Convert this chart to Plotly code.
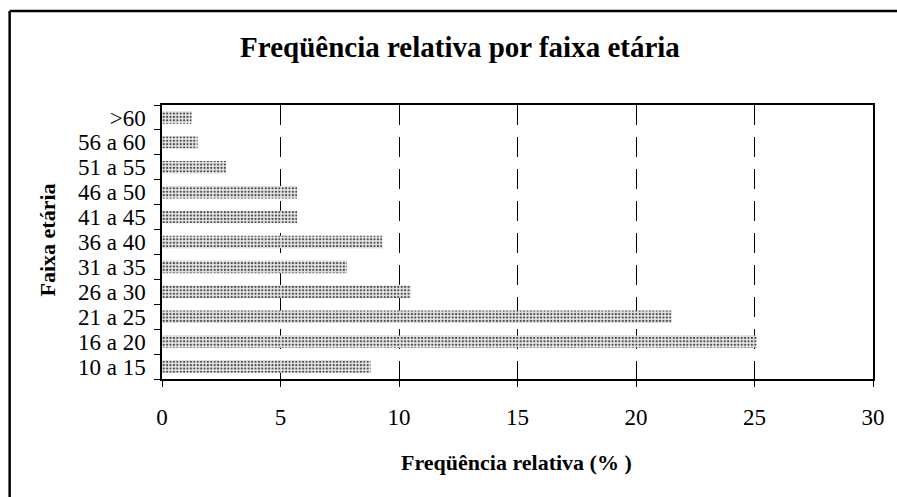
import plotly.graph_objects as go

categories = ["10 a 15", "16 a 20", "21 a 25", "26 a 30", "31 a 35", "36 a 40",
              "41 a 45", "46 a 50", "51 a 55", "56 a 60", ">60"]
values = [8.8, 25.1, 21.5, 10.5, 7.8, 9.3, 5.7, 5.7, 2.7, 1.5, 1.25]
x_ticks = [0, 5, 10, 15, 20, 25, 30]

title_text = "Freqüência relativa por faixa etária"
x_title = "Freqüência relativa (% )"
y_title = "Faixa etária"

FONT = "Liberation Serif, Times New Roman, serif"

fig = go.Figure()
fig.add_trace(go.Bar(
    y=categories, x=values, orientation="h", width=0.5,
    marker=dict(
        color="#e8e8e8",
        line=dict(width=0),
        pattern=dict(shape=".", size=3.4, solidity=0.35,
                     fgcolor="#4a4a4a", bgcolor="#e8e8e8", fillmode="replace"),
    ),
    hoverinfo="x+y",
))

W, H = 897, 497
L, R, T, B = 162, 21, 105, 118
pw, ph = W - L - R, H - T - B

fig.update_layout(
    width=W, height=H,
    margin=dict(l=L, r=R, t=T, b=B),
    paper_bgcolor="white", plot_bgcolor="white",
    showlegend=False,
    font=dict(family=FONT, color="black", size=23),
    title=dict(text="<b>" + title_text + "</b>", x=460 / W, xanchor="center",
               y=1 - 47 / H, yanchor="middle",
               font=dict(family=FONT, size=29, color="black")),
    bargap=0.5,
)

fig.update_xaxes(
    range=[0, 30], tickvals=x_ticks, ticktext=[str(v) for v in x_ticks],
    showgrid=True, gridcolor="black", gridwidth=1, griddash="20px,12px",
    showline=True, linecolor="black", linewidth=1.5, mirror=True,
    ticks="outside", ticklen=6, tickcolor="black", tickwidth=1,
    ticklabelstandoff=11,
    tickfont=dict(family=FONT, size=23, color="black"),
    zeroline=False, fixedrange=True,
)
fig.update_yaxes(
    type="category", categoryorder="array", categoryarray=categories,
    tickmode="array", tickvals=categories, ticktext=categories,
    showgrid=False, showline=True, linecolor="black", linewidth=1.5, mirror=True,
    ticks="outside", ticklen=6, tickcolor="black", tickwidth=1,
    tickson="boundaries", ticklabelstandoff=10,
    tickfont=dict(family=FONT, size=23, color="black"),
    fixedrange=True,
)

# axis titles as annotations (paper coordinates)
fig.add_annotation(
    text="<b>" + x_title + "</b>", xref="paper", yref="paper",
    x=(518 - L) / pw, y=-(462 - (T + ph)) / ph,
    xanchor="center", yanchor="middle", showarrow=False,
    font=dict(family=FONT, size=22, color="black"),
)
fig.add_annotation(
    text="<b>" + y_title + "</b>", xref="paper", yref="paper",
    x=(47 - L) / pw, y=1 - (240 - T) / ph, textangle=-90,
    xanchor="center", yanchor="middle", showarrow=False,
    font=dict(family=FONT, size=22, color="black"),
)

# outer chart frame (left and top edges visible)
fx0 = (9 - L) / pw
fy1 = 1 + (T - 11) / ph
fig.add_shape(type="line", xref="paper", yref="paper",
              x0=fx0, x1=fx0, y0=-2, y1=fy1, line=dict(color="black", width=2.5))
fig.add_shape(type="line", xref="paper", yref="paper",
              x0=fx0, x1=2, y0=fy1, y1=fy1, line=dict(color="black", width=2.5))

fig.write_html("out.html", config={"displayModeBar": False},
               post_script="document.body.style.margin='0';document.body.style.overflow='hidden';")
